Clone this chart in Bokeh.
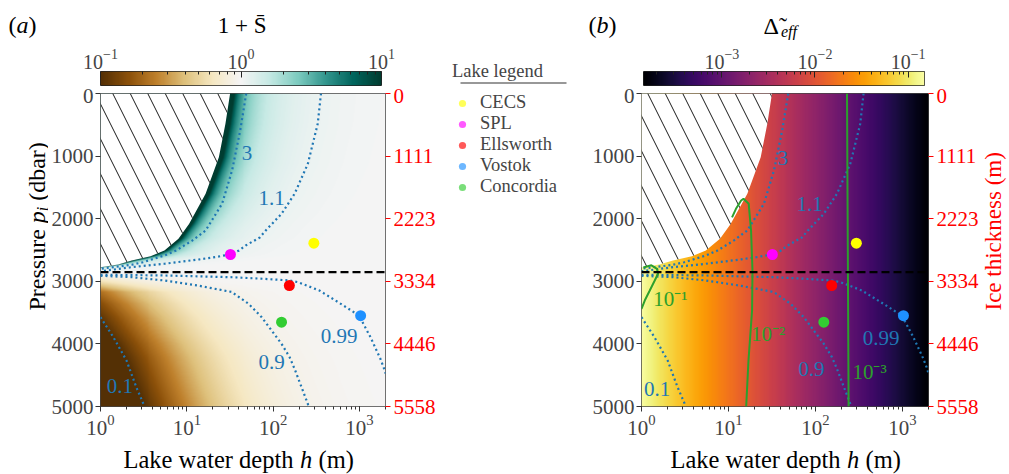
import numpy as np
from bokeh.plotting import figure
from bokeh.models import (Range1d, LinearAxis, FixedTicker, Span, Label, LogTickFormatter,
                          ColumnDataSource, Legend, LegendItem, BoxAnnotation)
from bokeh.layouts import row, column
from bokeh.embed import file_html
from bokeh.resources import INLINE
from bokeh.palettes import Inferno256
from bokeh.core.properties import value

FONT = "Liberation Serif"

# ---------------- data ----------------
H_MIN, H_MAX = 1.0, 2000.0
P_MIN, P_MAX = 0.0, 5000.0
P_CRIT = 2855.0
P_TICKS = [0, 1000, 2000, 3000, 4000, 5000]
ICE_TICKS = [0, 1111, 2223, 3334, 4446, 5558]
CB_A = (0.1, 10.0)
CB_A_TICKS = [0.1, 1.0, 10.0]
CB_B = (1.44e-4, 0.15)
CB_B_TICKS = [1e-3, 1e-2, 1e-1]

# boundary of the hatched region (h, p)
BND_H = [31.7, 28.0, 23.5, 16.5, 10.6, 8.0, 5.5, 3.8, 2.3, 1.6, 1.0]
BND_P = [0, 484, 1018, 1600, 2083, 2321, 2508, 2600, 2668, 2730, 2775]

# contours of 1 + S
C3_H = [48.7, 41.5, 33.4, 25.6, 16.5, 11.5, 7.5, 5.5, 3.1, 2.3, 1.0]
C3_P = [0, 591, 1230, 1762, 2188, 2350, 2508, 2588, 2695, 2736, 2800]
C11_H = [358, 328, 252, 177, 125, 82, 70, 48, 40, 31.3, 22, 14, 5.5, 2.3, 1.0]
C11_P = [0, 484, 1123, 1602, 1922, 2188, 2300, 2428, 2510, 2572, 2610, 2650, 2720, 2774, 2840]
C099_H = [1.0, 5.5, 32, 77, 155, 194, 343, 607, 985, 1340, 1745, 1900, 2000]
C099_P = [2896, 2907, 2934, 2960, 2987, 3014, 3147, 3360, 3546, 3893, 4238, 4372, 4470]
C09_H = [1.0, 2.3, 5.5, 13.3, 33, 52, 73.6, 95.9, 125, 155, 177, 252, 256]
C09_P = [2912, 2934, 2987, 3067, 3170, 3360, 3573, 3786, 3998, 4212, 4398, 4957, 5000]
C01_H = [1.0, 1.41, 2.0, 2.6, 3.24]
C01_P = [3573, 3893, 4265, 4692, 5000]

# contours of Delta_eff (right panel)
G1_H = [1.05, 1.3, 1.51, 1.55, 1.42, 1.245, 1.09, 1.0]
G1_P = [2780, 2745, 2800, 2880, 2987, 3147, 3307, 3440]
G2_H = [11.0, 12.2, 14.0, 14.9, 17.1, 18.2, 18.9, 18.7, 17.0, 16.0]
G2_P = [1980, 1842, 1709, 1682, 1762, 2188, 2827, 3466, 4265, 5000]
G3_H = [231, 236, 241]
G3_P = [0, 2500, 5000]
DLT_H = [1.0, 1.5, 18.6, 235, 2000]
DLT_V = [0.148, 0.1, 0.01, 0.001, 1.45e-4]

# contour labels
LAB_A_TXT = ["3", "1.1", "0.99", "0.9", "0.1"]
LAB_A_H = [49.6, 96, 580, 96, 1.68]
LAB_A_P = [954, 1666, 3866, 4292, 4680]
LAB_B_TXT = ["3", "1.1", "0.99", "0.9", "0.1"]
LAB_B_H = [42, 86, 572, 90, 1.51]
LAB_B_P = [1023, 1762, 3903, 4398, 4717]
GLAB_TXT = ["10\u207b\u00b9", "10\u207b\u00b2", "10\u207b\u00b3"]
GLAB_H = [2.15, 28.7, 420]
GLAB_P = [3280, 3839, 4452]

# lakes
LAKES = ["CECS", "SPL", "Ellsworth", "Vostok", "Concordia"]
LAKE_H = [296, 32, 154, 1030, 125]
LAKE_P = [2391, 2572, 3067, 3550, 3653]
LAKE_COLORS = ["#ffff00", "#ff00ff", "#ff0000", "#1e90ff", "#32cd32"]

BRBG = ['#543005', '#8c510a', '#bf812d', '#dfc27d', '#f6e8c3', '#f5f5f5',
        '#c7eae5', '#80cdc1', '#35978f', '#01665e', '#003c30']
BLUE = "#1f77b4"
GREEN = "#2ca02c"

# ---------------- fields (built from the read curves) ----------------
NX, NY = 288, 313
lh = (np.arange(NX) + 0.5) / NX * np.log10(H_MAX)
hh = 10 ** lh
pp = P_MIN + (np.arange(NY) + 0.5) / NY * (P_MAX - P_MIN)


def upper_h(p, cp, ch):
    cp = np.asarray(cp, float); ch = np.asarray(ch, float)
    out = 10 ** np.interp(p, cp, np.log10(ch))
    tail = p > cp[-1]
    out[tail] = ch[-1] * np.clip((P_CRIT - p[tail]) / (P_CRIT - cp[-1]), 1e-6, None)
    return out


def lower_h(p, cp, ch):
    cp = np.asarray(cp, float); ch = np.asarray(ch, float)
    out = 10 ** np.interp(p, cp, np.log10(ch))
    head = p < cp[0]
    out[head] = ch[0] * np.clip((p[head] - P_CRIT) / (cp[0] - P_CRIT), 1e-6, None)
    return out


HB = upper_h(pp, BND_P, BND_H)[:, None]
H11 = upper_h(pp, C11_P, C11_H)[:, None]
H09 = lower_h(pp, C09_P, C09_H)[:, None]
HH = hh[None, :]
A = 0.1 * np.maximum(H11 - HB, 1e-9)
v_up = np.where(HH > HB, 1 + A / np.maximum(HH - HB, 1e-9), 1e3)
v_lo = HH / (HH + H09 / 9.0)
VV = np.where((pp < P_CRIT)[:, None], v_up, v_lo)
tA = np.clip((np.log10(VV) + 1) / 2, 0, 1)

ldel = np.interp(lh, np.log10(DLT_H), np.log10(DLT_V))
lo_b, hi_b = np.log10(CB_B[0]), np.log10(CB_B[1])
tB = np.clip((ldel - lo_b) / (hi_b - lo_b), 0, 1)[None, :] * np.ones((NY, 1))


def ramp(colors, n=256):
    rgb = np.array([[int(c[i:i + 2], 16) for i in (1, 3, 5)] for c in colors], float)
    x = np.linspace(0, 1, len(colors)); xi = np.linspace(0, 1, n)
    return np.stack([np.interp(xi, x, rgb[:, k]) for k in range(3)], 1)


def to_rgba(t, lut):
    idx = np.clip(np.round(t * (len(lut) - 1)).astype(int), 0, len(lut) - 1)
    img = np.empty(t.shape + (4,), np.uint8)
    img[..., :3] = lut[idx].astype(np.uint8)
    img[..., 3] = 255
    return np.ascontiguousarray(img).view(np.uint32).reshape(t.shape)


LUT_A = ramp(BRBG)
LUT_B = ramp(list(Inferno256))
IMG_A = to_rgba(tA, LUT_A)
IMG_B = to_rgba(tB, LUT_B)
GRAD = np.linspace(0, 1, 256)[None, :] * np.ones((2, 1))


def minor_log(lo, hi):
    out = []
    for e in range(int(np.floor(np.log10(lo))), int(np.ceil(np.log10(hi))) + 1):
        for m in range(2, 10):
            v = m * 10.0 ** e
            if lo <= v <= hi:
                out.append(v)
    return out


# ---------------- helpers ----------------
def lab(p, x, y, text, size, style="normal", color="black", align="left", angle=0.0):
    p.add_layout(Label(x=x, y=y, x_units="screen", y_units="screen", text=text,
                       text_font=FONT, text_font_size=size, text_font_style=style,
                       text_color=color, text_align=align, text_baseline="middle", angle=angle))


def strip(width, height):
    f = figure(width=width, height=height, x_range=Range1d(0, 1), y_range=Range1d(0, 1),
               x_axis_location=None, y_axis_location=None, toolbar_location=None,
               output_backend="svg", min_border=0, title=None)
    f.grid.visible = False
    f.outline_line_color = None
    return f


def colorbar_fig(width, bl, br, rng, ticks, lut):
    f = figure(width=width, height=48, x_axis_type="log", x_range=Range1d(*rng),
               y_range=Range1d(0, 1), x_axis_location="above", y_axis_location=None,
               toolbar_location=None, output_backend="svg", min_border_left=bl,
               min_border_right=br, min_border_top=31, min_border_bottom=3, title=None)
    f.grid.visible = False
    f.image_rgba(image=[to_rgba(GRAD, lut)], x=rng[0], y=0, dw=rng[1] - rng[0], dh=1)
    ax = f.xaxis[0]
    ax.ticker = FixedTicker(ticks=ticks, minor_ticks=minor_log(*rng))
    ax.formatter = LogTickFormatter()
    ax.axis_line_color = None
    ax.major_tick_in = 6; ax.major_tick_out = 0
    ax.minor_tick_in = 3; ax.minor_tick_out = 0
    ax.major_tick_line_color = "#222222"; ax.minor_tick_line_color = "#222222"
    ax.major_label_text_font = FONT
    ax.major_label_text_font_size = "20px"
    ax.major_label_standoff = 3
    f.outline_line_color = "#222222"
    return f


def main_fig(width, bl, br):
    f = figure(width=width, height=358, x_axis_type="log", x_range=Range1d(H_MIN, H_MAX),
               y_range=Range1d(P_MAX, P_MIN), toolbar_location=None, output_backend="svg",
               min_border_left=bl, min_border_right=br, min_border_top=5, min_border_bottom=40,
               title=None)
    f.grid.visible = False
    f.outline_line_color = "#444444"
    xa = f.xaxis[0]
    ya = f.yaxis[0]
    ya.ticker = FixedTicker(ticks=P_TICKS)
    for a in (xa, ya):
        a.axis_line_color = None
        a.major_tick_out = 5; a.major_tick_in = 0
        a.minor_tick_out = 3; a.minor_tick_in = 0
        a.major_tick_line_color = "#333333"; a.minor_tick_line_color = "#333333"
        a.major_label_text_font = FONT
        a.major_label_text_font_size = "21px"
    xa.major_label_standoff = 3
    ya.major_label_standoff = 2
    ya.minor_tick_line_color = None
    f.extra_y_ranges = {"ice": Range1d(ICE_TICKS[-1], ICE_TICKS[0])}
    ra = LinearAxis(y_range_name="ice", ticker=FixedTicker(ticks=ICE_TICKS))
    ra.axis_line_color = None
    ra.major_tick_out = 5; ra.major_tick_in = 0
    ra.major_tick_line_color = "red"; ra.minor_tick_line_color = None
    ra.major_label_text_color = "red"
    ra.major_label_text_font = FONT
    ra.major_label_text_font_size = "21px"
    ra.major_label_standoff = 3
    f.add_layout(ra, "right")
    return f


def add_common(f, img, lab_txt, lab_h, lab_p):
    f.image_rgba(image=[img], x=H_MIN, y=P_MIN, dw=H_MAX - H_MIN, dh=P_MAX - P_MIN)
    f.patch(x=[H_MIN] + BND_H, y=[P_MIN] + BND_P, fill_color="white", line_color=None,
            hatch_pattern="\\", hatch_color="black", hatch_weight=0.9, hatch_scale=35)
    for ch, cp in ((C3_H, C3_P), (C11_H, C11_P), (C099_H, C099_P), (C09_H, C09_P), (C01_H, C01_P)):
        f.line(x=ch, y=cp, line_color=BLUE, line_width=2.2, line_dash="2 3")
    f.add_layout(Span(location=P_CRIT, dimension="width", line_color="black",
                      line_width=2.2, line_dash="8 4"))
    src = ColumnDataSource(dict(x=lab_h, y=lab_p, t=lab_txt))
    f.text(x="x", y="y", text="t", source=src, text_color=BLUE, text_align="center",
           text_baseline="middle", text_font=value(FONT), text_font_size=value("21px"))


lake_src = ColumnDataSource(dict(x=LAKE_H, y=LAKE_P, c=LAKE_COLORS))


def solo(f):
    # wrap so that the layout does not align this figure's frame with its siblings
    return column(f)


# ---------------- panel (a) ----------------
tA = strip(443, 40)
lab(tA, 8, 16, "(", "24px")
lab(tA, 16, 16, "a", "24px", style="italic")
lab(tA, 28, 16, ")", "24px")
lab(tA, 241.7, 15, "1 + S\u0304", "23px", align="center")

cbA = colorbar_fig(443, 100, 62, CB_A, CB_A_TICKS, LUT_A)

ylA = strip(48, 358)
lab(ylA, 36, 136, "Pressure", "24px", angle=np.pi / 2)
lab(ylA, 36, 223.3, "p", "24px", style="italic", angle=np.pi / 2)
lab(ylA, 41.5, 235.3, "i", "16px", style="italic", angle=np.pi / 2)
lab(ylA, 36, 245.7, "(dbar)", "24px", angle=np.pi / 2)

pA = main_fig(395, 49, 58)
add_common(pA, IMG_A, LAB_A_TXT, LAB_A_H, LAB_A_P)
pA.scatter(x="x", y="y", color="c", source=lake_src, size=11, line_color=None)

xlA = strip(443, 28)
lab(xlA, 123, 15.5, "Lake water depth", "24.5px")
lab(xlA, 299.5, 15.5, "h", "24.5px", style="italic")
lab(xlA, 318, 15.5, "(m)", "24.5px")

# ---------------- legend ----------------
leg = strip(140, 474)
items = []
for name, col in zip(LAKES, LAKE_COLORS):
    r = leg.scatter(x=[np.nan], y=[np.nan], size=13, fill_color=col, line_color=None, fill_alpha=0.65)
    items.append(LegendItem(label=name, renderers=[r]))
legend = Legend(items=items, title="Lake legend", location=(9, 277), padding=10,
                label_text_font=FONT, label_text_font_size="18.5px",
                title_text_font=FONT, title_text_font_size="18.5px", title_text_font_style="normal",
                title_standoff=10, glyph_width=20, glyph_height=18, label_height=18,
                label_standoff=8, spacing=0, border_line_color=None,
                background_fill_alpha=0.0)
leg.add_layout(legend)
leg.add_layout(BoxAnnotation(left=17, right=123, top=392, bottom=391, left_units="screen",
                             right_units="screen", top_units="screen", bottom_units="screen",
                             fill_color="#333333", fill_alpha=1.0, line_color=None))

# ---------------- panel (b) ----------------
tB = strip(426, 40)
lab(tB, 5, 16, "(", "24px")
lab(tB, 13, 16, "b", "24px", style="italic")
lab(tB, 25, 16, ")", "24px")
lab(tB, 180, 15, "\u0394\u0303", "24px")
lab(tB, 197.5, 9.4, "eff", "16px", style="italic")

cbB = colorbar_fig(426, 60, 85, CB_B, CB_B_TICKS, LUT_B)

pB = main_fig(398, 58, 52)
add_common(pB, IMG_B, LAB_B_TXT, LAB_B_H, LAB_B_P)
for ch, cp in ((G1_H, G1_P), (G2_H, G2_P), (G3_H, G3_P)):
    pB.line(x=ch, y=cp, line_color=GREEN, line_width=2.0)
gsrc = ColumnDataSource(dict(x=GLAB_H, y=GLAB_P, t=GLAB_TXT))
pB.text(x="x", y="y", text="t", source=gsrc, text_color=GREEN, text_align="center",
        text_baseline="middle", text_font=value(FONT), text_font_size=value("21px"))
pB.scatter(x="x", y="y", color="c", source=lake_src, size=11, line_color=None)

ilB = strip(28, 358)
lab(ilB, 12.2, 136, "Ice thickness (m)", "23px", color="red", angle=np.pi / 2)

xlB = strip(426, 28)
lab(xlB, 87, 15.5, "Lake water depth", "24.5px")
lab(xlB, 263.5, 15.5, "h", "24.5px", style="italic")
lab(xlB, 282, 15.5, "(m)", "24.5px")

left_col = column(solo(tA), solo(cbA), row(solo(ylA), solo(pA)), solo(xlA))
right_col = column(solo(tB), solo(cbB), row(solo(pB), solo(ilB)), solo(xlB))
layout = row(left_col, solo(leg), right_col)
open("out.html", "w").write(file_html(layout, INLINE))
